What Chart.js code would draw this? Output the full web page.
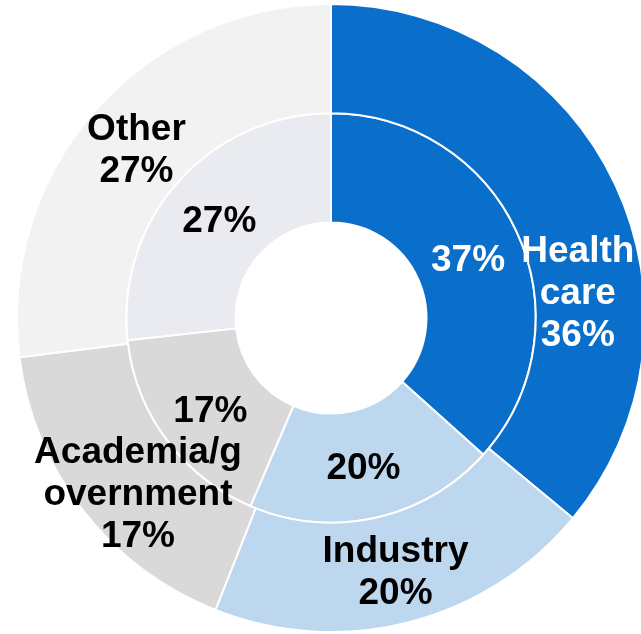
<!DOCTYPE html>
<html>
<head>
<meta charset="utf-8">
<script src="https://cdn.jsdelivr.net/npm/chart.js@4"></script>
<style>
  html, body { margin: 0; padding: 0; background: #fff; overflow: hidden; }
  #chart { position: absolute; left: 0; top: 0; }
</style>
</head>
<body>
<canvas id="chart" width="662" height="636"></canvas>
<script>
// data
const categories = ['Health care', 'Industry', 'Academia/government', 'Other'];
const outerText = [['Health', 'care'], ['Industry'], ['Academia/g', 'overnment'], ['Other']];
const outerValues = [36, 20, 17, 27];   // outer ring
const innerValues = [37, 20, 17, 27];   // inner ring
const outerColors = ['#0A6FCB', '#BDD7EE', '#D9D9D9', '#F2F2F2'];
const innerColors = ['#0A6FCB', '#BDD7EE', '#D9D9D9', '#EAEBF0'];
const textColors = ['#FFFFFF', '#000000', '#000000', '#000000'];

// draws the % labels inside each arc
const ringLabels = {
  id: 'ringLabels',
  afterDatasetsDraw(chart, args, opts) {
    const ctx = chart.ctx;
    ctx.save();
    ctx.font = 'bold 37px "Liberation Sans", Arial, sans-serif';
    ctx.textAlign = 'center';
    ctx.textBaseline = 'middle';
    chart.data.datasets.forEach((ds, di) => {
      const meta = chart.getDatasetMeta(di);
      meta.data.forEach((arc, i) => {
        const p = arc.getProps(['x', 'y', 'startAngle', 'endAngle', 'innerRadius', 'outerRadius']);
        const f = opts.anchor[di][i];
        const a = p.startAngle + (p.endAngle - p.startAngle) * f;
        const r = (p.innerRadius + p.outerRadius) / 2 + opts.shift[di][i];
        const cx = p.x + Math.cos(a) * r;
        const cy = p.y + Math.sin(a) * r + 4;
        const lines = di === 0 ? [...outerText[i], ds.data[i] + '%'] : [ds.data[i] + '%'];
        ctx.fillStyle = textColors[i];
        lines.forEach((t, k) => {
          ctx.fillText(t, cx, cy + (k - (lines.length - 1) / 2) * 42);
        });
      });
    });
    ctx.restore();
  }
};

new Chart(document.getElementById('chart'), {
  type: 'doughnut',
  data: {
    labels: categories,
    datasets: [
      { data: outerValues, backgroundColor: outerColors, borderColor: '#FFFFFF', borderWidth: 2 },
      { data: innerValues, backgroundColor: innerColors, borderColor: '#FFFFFF', borderWidth: 2 }
    ]
  },
  options: {
    responsive: false,
    animation: false,
    radius: 314,
    cutout: '30.4%',
    plugins: {
      legend: { display: false },
      tooltip: { enabled: false },
      ringLabels: {
        anchor: [[0.645, 0.5, 0.433, 0.5], [0.5, 0.5, 0.5, 0.5]],
        shift: [[-11, 0, 0, 0], [0, 0, 0, 0]]
      }
    }
  },
  plugins: [ringLabels]
});
</script>
</body>
</html>
